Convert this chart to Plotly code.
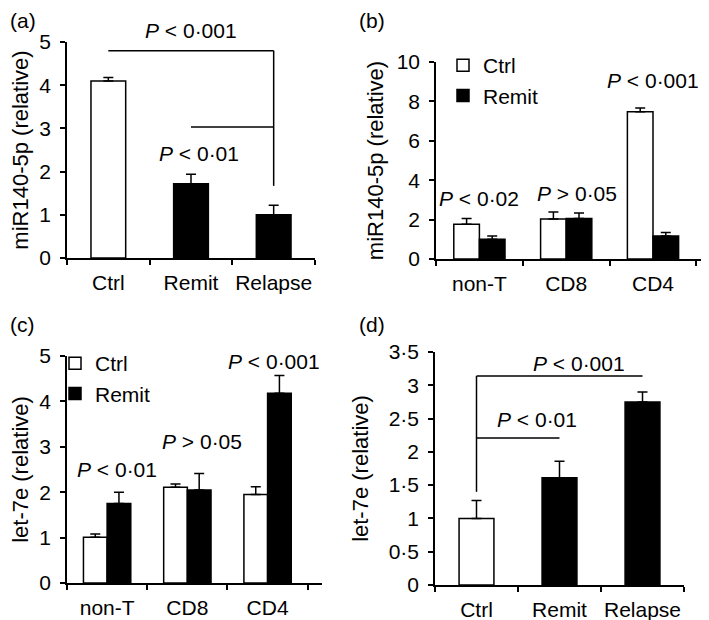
import plotly.graph_objects as go
from plotly.subplots import make_subplots

# (a) miR140-5p, whole PBMC
groups_a = ["Ctrl", "Remit", "Relapse"]
mir_a = [4.1, 1.72, 1.0]
mir_a_err = [0.08, 0.22, 0.22]

# (b) miR140-5p by cell subset
subsets = ["non-T", "CD8", "CD4"]
mir_b_ctrl = [1.77, 2.03, 7.48]
mir_b_ctrl_err = [0.28, 0.35, 0.19]
mir_b_remit = [1.0, 2.05, 1.17]
mir_b_remit_err = [0.17, 0.28, 0.18]

# (c) let-7e by cell subset
let_c_ctrl = [1.01, 2.11, 1.95]
let_c_ctrl_err = [0.07, 0.07, 0.17]
let_c_remit = [1.75, 2.05, 4.18]
let_c_remit_err = [0.25, 0.36, 0.39]

# (d) let-7e, whole PBMC
let_d = [1.0, 1.61, 2.75]
let_d_err = [0.27, 0.25, 0.15]

FONT = "Liberation Sans, Arial, sans-serif"
W, H = 709, 620
PAGE_OFF = 8  # default body margin of the html page


def px_x(p):
    return (p - PAGE_OFF) / W


def px_y(p):
    return 1 - (p - PAGE_OFF) / H


def err(vals):
    return dict(type="data", array=vals, arrayminus=[0] * len(vals),
                symmetric=False, color="black", thickness=1.5, width=5)


fig = make_subplots(rows=2, cols=2)

fig.add_trace(go.Bar(x=groups_a, y=mir_a, width=0.42, showlegend=False,
                     marker=dict(color=["white", "black", "black"],
                                 line=dict(color="black", width=1.5)),
                     error_y=err(mir_a_err)), row=1, col=1)

fig.add_trace(go.Bar(x=subsets, y=mir_b_ctrl, name="Ctrl", legend="legend",
                     marker=dict(color="white", line=dict(color="black", width=1.5)),
                     error_y=err(mir_b_ctrl_err)), row=1, col=2)
fig.add_trace(go.Bar(x=subsets, y=mir_b_remit, name="Remit", legend="legend",
                     marker=dict(color="black", line=dict(color="black", width=1.5)),
                     error_y=err(mir_b_remit_err)), row=1, col=2)

fig.add_trace(go.Bar(x=subsets, y=let_c_ctrl, name="Ctrl", legend="legend2",
                     marker=dict(color="white", line=dict(color="black", width=1.5)),
                     error_y=err(let_c_ctrl_err)), row=2, col=1)
fig.add_trace(go.Bar(x=subsets, y=let_c_remit, name="Remit", legend="legend2",
                     marker=dict(color="black", line=dict(color="black", width=1.5)),
                     error_y=err(let_c_remit_err)), row=2, col=1)

fig.add_trace(go.Bar(x=groups_a, y=let_d, width=0.42, showlegend=False,
                     marker=dict(color=["white", "black", "black"],
                                 line=dict(color="black", width=1.5)),
                     error_y=err(let_d_err)), row=2, col=2)

axis_common = dict(showline=True, linecolor="black", linewidth=1.5, ticks="outside",
                   ticklen=5, tickwidth=1.5, tickcolor="black", showgrid=False,
                   zeroline=False, ticklabelstandoff=5, automargin=False, tickangle=0,
                   tickfont=dict(family=FONT, size=21, color="black"))

# domains in pixels: (x0, x1, y_bottom, y_top)
doms = [(67, 315, 258, 42), (436, 701, 259, 62), (67, 322, 583, 356), (435, 684, 585, 352)]
for i, (x0, x1, yb, yt) in enumerate(doms, start=1):
    fig.update_layout(**{
        f"xaxis{i if i > 1 else ''}": dict(axis_common, domain=[px_x(x0), px_x(x1)],
                                            tickson="boundaries", type="category"),
        f"yaxis{i if i > 1 else ''}": dict(axis_common, domain=[px_y(yb), px_y(yt)]),
    })


def ytitle(t, standoff=14):
    return dict(text=t, font=dict(family=FONT, size=22, color="black"), standoff=standoff)


fig.update_layout(
    yaxis=dict(range=[0, 5], tickvals=[0, 1, 2, 3, 4, 5], title=ytitle("miR140-5p (relative)")),
    yaxis2=dict(range=[0, 10], tickvals=[0, 2, 4, 6, 8, 10],
                title=ytitle("miR140-5p (relative)", 7)),
    yaxis3=dict(range=[0, 5], tickvals=[0, 1, 2, 3, 4, 5], title=ytitle("let-7e (relative)")),
    yaxis4=dict(range=[0, 3.5], tickvals=[0, 0.5, 1, 1.5, 2, 2.5, 3, 3.5],
                ticktext=["0", "0·5", "1", "1·5", "2", "2·5", "3", "3·5"],
                title=ytitle("let-7e (relative)")),
)

# significance brackets: (xref, yref, x0, y0, x1, y1) in data units
brackets = [
    ("x", "y", 0, 4.8, 2, 4.8), ("x", "y", 2, 4.8, 2, 1.67), ("x", "y", 1, 3.03, 2, 3.03),
    ("x4", "y4", 0, 3.14, 2, 3.14), ("x4", "y4", 0, 3.14, 0, 1.4), ("x4", "y4", 0, 2.21, 1, 2.21),
]
for xr, yr, x0, y0, x1, y1 in brackets:
    fig.add_shape(type="line", xref=xr, yref=yr, x0=x0, y0=y0, x1=x1, y1=y1,
                  line=dict(color="black", width=1.5))

# p-value labels: (xref, yref, x, y, text)
pvals = [
    ("x", "y", 1.1, 2.43, "<i>P</i> &lt; 0·01"),
    ("x2", "y2", 0.0, 3.05, "<i>P</i> &lt; 0·02"),
    ("x2", "y2", 1.12, 3.3, "<i>P</i> &gt; 0·05"),
    ("x2", "y2", 2.0, 9.05, "<i>P</i> &lt; 0·001"),
    ("x3", "y3", 0.12, 2.49, "<i>P</i> &lt; 0·01"),
    ("x3", "y3", 1.18, 3.11, "<i>P</i> &gt; 0·05"),
    ("x3", "y3", 2.08, 4.88, "<i>P</i> &lt; 0·001"),
    ("x4", "y4", 1.23, 3.33, "<i>P</i> &lt; 0·001"),
    ("x4", "y4", 0.73, 2.48, "<i>P</i> &lt; 0·01"),
]
for xr, yr, x, y, t in pvals:
    fig.add_annotation(xref=xr, yref=yr, x=x, y=y, text=t, showarrow=False,
                       yanchor="middle", font=dict(family=FONT, size=21, color="black"))
# the top label of (a) sits above the axis range
fig.add_annotation(xref="x", yref="paper", x=1.0, y=px_y(30), text="<i>P</i> &lt; 0·001",
                   showarrow=False, yanchor="middle",
                   font=dict(family=FONT, size=21, color="black"))

for lab, x, y in [("(a)", 8, 20), ("(b)", 357, 20), ("(c)", 8, 325), ("(d)", 357, 325)]:
    fig.add_annotation(xref="paper", yref="paper", x=px_x(x), y=px_y(y), text=lab,
                       xanchor="left", yanchor="middle", showarrow=False,
                       font=dict(family=FONT, size=21, color="black"))

legend_style = dict(font=dict(family=FONT, size=21, color="black"), bgcolor="rgba(0,0,0,0)",
                    xanchor="left", yanchor="top", tracegroupgap=0, itemwidth=30)
fig.update_layout(
    width=W, height=H, margin=dict(l=0, r=0, t=0, b=0),
    plot_bgcolor="white", paper_bgcolor="white",
    barmode="group", bargap=0.41, bargroupgap=0,
    legend=dict(legend_style, x=px_x(443), y=px_y(45)),
    legend2=dict(legend_style, x=px_x(55), y=px_y(343)),
)

fig.write_html("out.html")
